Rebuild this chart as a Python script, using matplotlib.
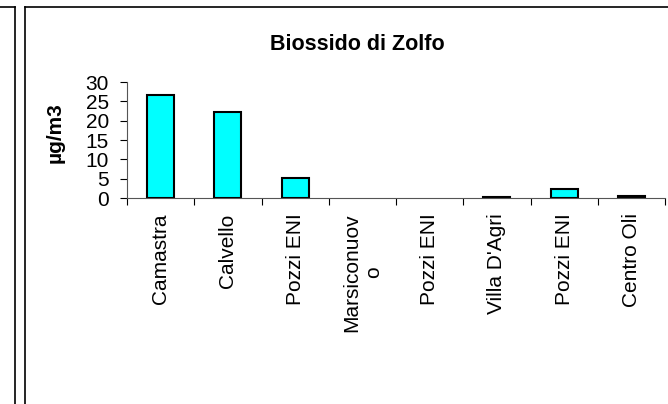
import matplotlib
matplotlib.use("Agg")
from matplotlib import pyplot as plt
from matplotlib.lines import Line2D
import numpy as np

plt.rcParams["font.family"] = ["Liberation Sans", "DejaVu Sans"]

# Data
stations = ["Camastra", "Calvello", "Pozzi ENI", "Marsiconuov\no",
            "Pozzi ENI", "Villa D'Agri", "Pozzi ENI", "Centro Oli"]
so2_values = [26.6, 22.2, 5.2, 0.0, 0.0, 0.2, 2.4, 0.4]
y_ticks = [0, 5, 10, 15, 20, 25, 30]

W, H = 668, 404
fig = plt.figure(figsize=(W / 100, H / 100), dpi=100)

# Axes placed in pixel terms: y axis at x=127, x from 127 to 665; y=0 at 198, y=30 at 82
left, right = 127 / W, 665 / W
bottom, top = 1 - 198 / H, 1 - 82 / H
ax = fig.add_axes([left, bottom, right - left, top - bottom])

x = np.arange(len(stations))
# zero values show no bar at all
lw = [1.5 if v > 0 else 0 for v in so2_values]
ax.bar(x, so2_values, width=0.4, color="#00FFFF", edgecolor="black", linewidth=lw)

ax.set_xlim(-0.5, len(stations) - 0.5)
ax.set_ylim(0, 30)
ax.set_yticks(y_ticks)
ax.tick_params(axis="y", labelsize=15, length=5, width=0.8, pad=8)

# ticks at category boundaries, labels centred under bars
ax.set_xticks(np.arange(len(stations) + 1) - 0.5)
ax.set_xticklabels([])
ax.set_xticks(x, minor=True)
ax.set_xticklabels(stations, minor=True, rotation=90, fontsize=15, va="top",
                   ha="center", multialignment="center")
ax.tick_params(axis="x", which="major", length=5, width=0.8)
ax.tick_params(axis="x", which="minor", length=0, pad=11)

for s in ["top", "right"]:
    ax.spines[s].set_visible(False)
ax.spines["left"].set_color("#555555")
ax.spines["bottom"].set_color("#555555")

fig.text(55 / W, 1 - 133 / H, "µg/m3", fontsize=15, fontweight="bold",
         rotation=90, ha="center", va="center")

fig.text(357 / W, 1 - 44 / H, "Biossido di Zolfo", fontsize=15.5, fontweight="bold",
         ha="center", va="center")

# surrounding frame lines
def px(xp, yp):
    return xp / W, 1 - yp / H

for (x0, y0), (x1, y1) in [((0, 7), (15, 7)), ((15, 7), (15, 404)),
                           ((25, 7), (668, 7)), ((25, 7), (25, 404))]:
    a, b = px(x0, y0)
    c, d = px(x1, y1)
    fig.add_artist(Line2D([a, c], [b, d], color="black", linewidth=1.2))

plt.savefig("out.png", dpi=100)
